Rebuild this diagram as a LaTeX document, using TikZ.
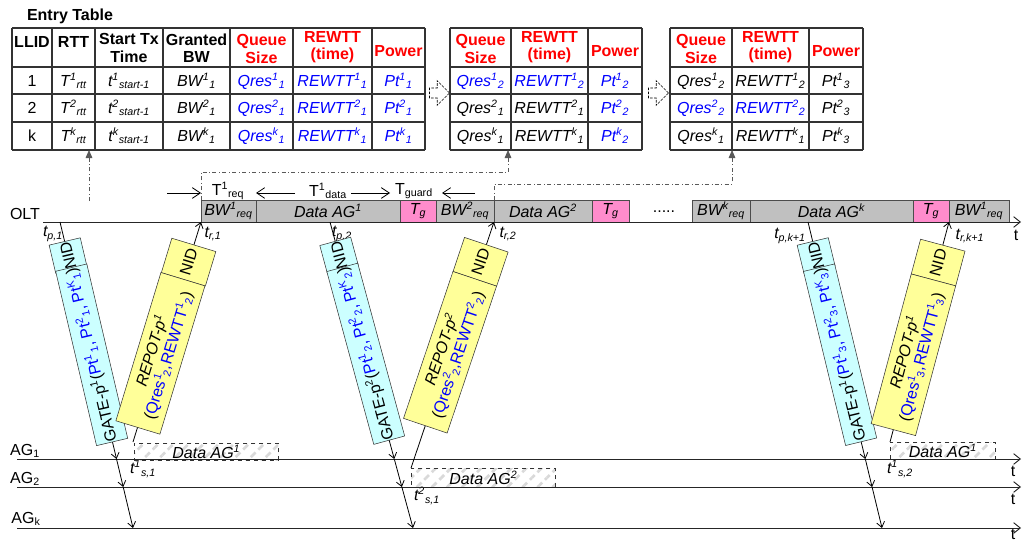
\documentclass[tikz,border=0pt]{standalone}
\usepackage{fontspec}
\setmainfont{Liberation Sans}
\usetikzlibrary{arrows.meta,positioning,calc,shapes.arrows,patterns.meta}

\definecolor{slotgray}{RGB}{192,192,192}
\definecolor{guardpink}{RGB}{255,140,204}
\definecolor{gatecyan}{RGB}{204,255,255}
\definecolor{repotyellow}{RGB}{255,255,153}
\definecolor{valblue}{RGB}{0,0,255}

\newcommand{\supsub}[3]{#1\textsuperscript{#2}\textsubscript{#3}}

\begin{document}
\fontsize{12}{13}\selectfont
\begin{tikzpicture}[
  x=0.75pt, y=-0.75pt,
  tabline/.style={draw=black!80, line width=0.8pt},
  hd/.style={font=\bfseries, align=center, inner sep=0pt},
  hdred/.style={hd, text=red},
  val/.style={font=\itshape, inner sep=0pt},
  valb/.style={val, text=valblue},
  slot/.style={draw=black!70, fill=slotgray, font=\itshape, minimum height=16.5pt,
               inner sep=0pt, outer sep=0pt, line width=0.6pt},
  guard/.style={slot, fill=guardpink},
  dataag/.style={draw=black!80, dashed, line width=0.6pt, anchor=north west,
                 pattern={Lines[angle=45,distance=8pt,line width=2pt]},
                 pattern color=black!15, font=\itshape, inner sep=0pt},
  gate/.style={draw=black!80, fill=gatecyan, inner sep=0.5pt, minimum height=24pt},
  repot/.style={draw=black!80, fill=repotyellow, inner sep=0.5pt, minimum height=34.5pt, align=center},
  nextarr/.style={single arrow, draw=black, fill=white, dash pattern=on 2pt off 1pt, line width=0.5pt,
                  minimum height=15pt, inner sep=3.5pt, single arrow head extend=5.5pt},
  msg/.style={-{Straight Barb[length=4pt,width=6pt]}, line width=0.6pt},
  dimarr/.style={-{Straight Barb[length=6pt,width=8pt]}, line width=0.6pt},
  link/.style={draw=black!65, dash dot, line width=0.6pt, -{Triangle[length=6pt,width=5pt]}},
  timeaxis/.style={draw=black!85, line width=0.7pt, -{Straight Barb[length=5pt,width=8pt]}}
]
\useasboundingbox (0,0) rectangle (1023,542);

% entry table
\node[hd] (title) at (70,16) {Entry Table};
\foreach \cx in {12,52,95,163,230,293,372,425} \draw[tabline] (\cx,28) -- (\cx,150);
\foreach \cy in {28,67,94,122,150} \draw[tabline] (12,\cy) -- (425,\cy);
\node[hd] (llid) at (32,42) {LLID};
\node[hd] (rtt) at (73.5,42) {RTT};
\node[hd] (start) at (129,48) {Start Tx\\Time};
\node[hd] (grant) at (196.5,48) {Granted\\BW};
\node[hdred] (qs) at (261.5,49) {Queue\\Size};
\node[hdred] (rw) at (332.5,47) {REWTT\\(time)};
\node[hdred] (pw) at (398.5,51) {Power};

\node (id1) at (32,81) {1};
\node[val] (rtt1) at (73.5,81) {\supsub{T}{1}{rtt}};
\node[val] (st1) at (129,81) {\supsub{t}{1}{start-1}};
\node[val] (bw11) at (196.5,81) {\supsub{BW}{1}{1}};
\node[valb] (q11) at (261.5,81) {\supsub{Qres}{1}{1}};
\node[valb] (r11) at (332.5,81) {\supsub{REWTT}{1}{1}};
\node[valb] (p11) at (398.5,81) {\supsub{Pt}{1}{1}};

\node (id2) at (32,108) {2};
\node[val] (rtt2) at (73.5,108) {\supsub{T}{2}{rtt}};
\node[val] (st2) at (129,108) {\supsub{t}{2}{start-1}};
\node[val] (bw21) at (196.5,108) {\supsub{BW}{2}{1}};
\node[valb] (q21) at (261.5,108) {\supsub{Qres}{2}{1}};
\node[valb] (r21) at (332.5,108) {\supsub{REWTT}{2}{1}};
\node[valb] (p21) at (398.5,108) {\supsub{Pt}{2}{1}};

\node (idk) at (32,136) {k};
\node[val] (rttk) at (73.5,136) {\supsub{T}{k}{rtt}};
\node[val] (stk) at (129,136) {\supsub{t}{k}{start-1}};
\node[val] (bwk1) at (196.5,136) {\supsub{BW}{k}{1}};
\node[valb] (qk1) at (261.5,136) {\supsub{Qres}{k}{1}};
\node[valb] (rk1) at (332.5,136) {\supsub{REWTT}{k}{1}};
\node[valb] (pk1) at (398.5,136) {\supsub{Pt}{k}{1}};

% second table
\node[nextarr] (nx1) at (437,93) {};
\foreach \cx in {450,511,588,642} \draw[tabline] (\cx,28) -- (\cx,150);
\foreach \cy in {28,67,94,122,150} \draw[tabline] (450,\cy) -- (642,\cy);
\node[hdred] (qsb) at (480.5,49) {Queue\\Size};
\node[hdred] (rwb) at (549.5,47) {REWTT\\(time)};
\node[hdred] (pwb) at (615,51) {Power};
\node[valb] (q12) at (480.5,81) {\supsub{Qres}{1}{2}};
\node[valb] (r12) at (549.5,81) {\supsub{REWTT}{1}{2}};
\node[valb] (p12) at (615,81) {\supsub{Pt}{1}{2}};
\node[val] (q21b) at (480.5,108) {\supsub{Qres}{2}{1}};
\node[val] (r21b) at (549.5,108) {\supsub{REWTT}{2}{1}};
\node[valb] (p22) at (615,108) {\supsub{Pt}{2}{2}};
\node[val] (qk1b) at (480.5,136) {\supsub{Qres}{k}{1}};
\node[val] (rk1b) at (549.5,136) {\supsub{REWTT}{k}{1}};
\node[valb] (pk2) at (615,136) {\supsub{Pt}{k}{2}};

% third table
\node[nextarr] (nx2) at (656,93) {};
\foreach \cx in {670,732,809,863} \draw[tabline] (\cx,28) -- (\cx,150);
\foreach \cy in {28,67,94,122,150} \draw[tabline] (670,\cy) -- (863,\cy);
\node[hdred] (qsc) at (701,49) {Queue\\Size};
\node[hdred] (rwc) at (770.5,47) {REWTT\\(time)};
\node[hdred] (pwc) at (836,51) {Power};
\node[val] (q12c) at (701,81) {\supsub{Qres}{1}{2}};
\node[val] (r12c) at (770.5,81) {\supsub{REWTT}{1}{2}};
\node[val] (p13) at (836,81) {\supsub{Pt}{1}{3}};
\node[valb] (q22) at (701,108) {\supsub{Qres}{2}{2}};
\node[valb] (r22) at (770.5,108) {\supsub{REWTT}{2}{2}};
\node[val] (p23) at (836,108) {\supsub{Pt}{2}{3}};
\node[val] (qk1c) at (701,136) {\supsub{Qres}{k}{1}};
\node[val] (rk1c) at (770.5,136) {\supsub{REWTT}{k}{1}};
\node[val] (pk3) at (836,136) {\supsub{Pt}{k}{3}};

% OLT slots
\node (olt) at (25,214) {OLT};
\node[slot, minimum width=41.25pt, anchor=south west] (bw1) at (201,222) {\supsub{BW}{1}{req}};
\node[slot, minimum width=108pt, right=0pt of bw1] (data1) {Data AG\textsuperscript{1}};
\node[guard, minimum width=27pt, right=0pt of data1] (tg1) {T\textsubscript{g}};
\node[slot, minimum width=43.5pt, right=0pt of tg1] (bw2) {\supsub{BW}{2}{req}};
\node[slot, minimum width=73.5pt, right=0pt of bw2] (data2) {Data AG\textsuperscript{2}};
\node[guard, minimum width=27.75pt, right=0pt of data2] (tg2) {T\textsubscript{g}};
\node (dots) at (664,212) {.....};
\node[slot, minimum width=43.5pt, anchor=south west] (bwk) at (692,222) {\supsub{BW}{k}{req}};
\node[slot, minimum width=122.25pt, right=0pt of bwk] (datak) {Data AG\textsuperscript{k}};
\node[guard, minimum width=27pt, right=0pt of datak] (tgk) {T\textsubscript{g}};
\node[slot, minimum width=45pt, right=0pt of tgk] (bw1b) {\supsub{BW}{1}{req}};

% interval marks
\node (treq) at (228,191) {T\textsuperscript{1}\textsubscript{req}};
\node (tdata) at (328,191) {T\textsuperscript{1}\textsubscript{data}};
\node (tguard) at (414,191) {T\textsubscript{guard}};
\coordinate (dm1) at (167,193);
\coordinate (dm2) at (295,193);
\coordinate (dm3) at (351,193);
\coordinate (dm4) at (475,193);
\draw[dimarr] (dm1) -- (dm1 -| bw1.west);
\draw[dimarr] (dm2) -- (dm2 -| data1.west);
\draw[dimarr] (dm3) -- (390,193);
\draw[dimarr] (dm4) -- (442,193);

% time labels
\node[val] (ltp1) at (53,234) {t\textsubscript{p,1}};
\node[val] (ltr1) at (213,234) {t\textsubscript{r,1}};
\node[val] (ltp2) at (342,234) {t\textsubscript{p,2}};
\node[val] (ltr2) at (508,234) {t\textsubscript{r,2}};
\node[val] (ltp3) at (790,236) {t\textsubscript{p,k+1}};
\node[val] (ltr3) at (970,236) {t\textsubscript{r,k+1}};
\node[val] (ts1) at (143,469) {\supsub{t}{1}{s,1}};
\node[val] (ts2) at (427,496) {\supsub{t}{2}{s,1}};
\node[val] (ts3) at (900,469) {\supsub{t}{1}{s,2}};

% data sent by the AGs
\node[dataag, minimum width=108pt, minimum height=12.75pt] (d1) at (133,442) {Data AG\textsuperscript{1}};
\node[dataag, minimum width=108pt, minimum height=14.25pt] (d2) at (411,468) {Data AG\textsuperscript{2}};
\node[dataag, minimum width=78.75pt, minimum height=12.75pt] (d3) at (890,442) {Data AG\textsuperscript{1}};

% time axes
\coordinate (oltw) at (43,222);
\coordinate (olte) at (1021,222);
\draw[timeaxis] (oltw) -- (olte);
\node (tolt) at (1016,235) {t};
\coordinate (ag1w) at (17,459);
\coordinate (ag1e) at (1021,459);
\coordinate (ag2w) at (17,487);
\coordinate (ag2e) at (1021,487);
\coordinate (agkw) at (17,528);
\coordinate (agke) at (1021,528);
\draw[timeaxis] (ag1w) -- (ag1e);
\draw[timeaxis] (ag2w) -- (ag2e);
\draw[timeaxis] (agkw) -- (agke);
\node (ag1) at (25,451) {AG\textsubscript{1}};
\node (ag2) at (25,479) {AG\textsubscript{2}};
\node (agk) at (26,519) {AG\textsubscript{k}};
\node (t1) at (1013,471) {t};
\node (t2) at (1013,499) {t};
\node (tk) at (1013,534) {t};

% GATE messages
\coordinate (p1) at (60,222);
\coordinate (g1) at (133,528);
\coordinate (p2) at (330,222);
\coordinate (g2) at (413,528);
\coordinate (p3) at (808,222);
\coordinate (g3) at (882,528);
\foreach \i in {1,2,3} {
  \coordinate (g\i a) at ($(p\i)!0.7745!(g\i)$);
  \coordinate (g\i b) at ($(p\i)!0.866!(g\i)$);
  \draw[msg] (p\i) -- (g\i a);
  \draw[msg] (g\i a) -- (g\i b);
  \draw[msg] (g\i b) -- (g\i);
}

% REPORT messages
\draw[msg] (d1.north west) -- (bw1.south west);
\draw[msg] (d2.north west) -- (data2.south west);
\draw[msg] (d3.north west) -- (bw1b.south west);

% message frames
\node[gate, minimum width=21.75pt, rotate=103.2] (nid1) at ($(p1)!25.9pt!(g1)$) {NID};
\node[gate, minimum width=131pt, rotate=103.2] (gate1) at ($(p1)!102.4pt!(g1)$)
  {GATE-p\textsuperscript{1}(\textcolor{valblue}{\supsub{Pt}{1}{1}, \supsub{Pt}{2}{1}, \supsub{Pt}{K}{1}})};
\node[gate, minimum width=21.75pt, rotate=105.2] (nid2) at ($(p2)!25.9pt!(g2)$) {NID};
\node[gate, minimum width=131pt, rotate=105.2] (gate2) at ($(p2)!102.4pt!(g2)$)
  {GATE-p\textsuperscript{2}(\textcolor{valblue}{\supsub{Pt}{1}{2}, \supsub{Pt}{2}{2}, \supsub{Pt}{K}{2}})};
\node[gate, minimum width=21.75pt, rotate=103.6] (nid3) at ($(p3)!25.9pt!(g3)$) {NID};
\node[gate, minimum width=131pt, rotate=103.6] (gate3) at ($(p3)!102.4pt!(g3)$)
  {GATE-p\textsuperscript{1}(\textcolor{valblue}{\supsub{Pt}{1}{3}, \supsub{Pt}{2}{3}, \supsub{Pt}{K}{3}})};

\node[repot, minimum width=27pt, rotate=73.1] (nid4) at ($(bw1.south west)!31.5pt!(d1.north west)$) {NID};
\node[repot, minimum width=116.25pt, rotate=73.1] (rep1) at ($(bw1.south west)!103.1pt!(d1.north west)$)
  {\textit{REPOT-p\textsuperscript{1}}\\(\textcolor{valblue}{\supsub{Qres}{1}{2},\supsub{REWTT}{1}{2}})};
\node[repot, minimum width=27pt, rotate=71.4] (nid5) at ($(data2.south west)!31.5pt!(d2.north west)$) {NID};
\node[repot, minimum width=116.25pt, rotate=71.4] (rep2) at ($(data2.south west)!103.1pt!(d2.north west)$)
  {\textit{REPOT-p\textsuperscript{2}}\\(\textcolor{valblue}{\supsub{Qres}{2}{2},\supsub{REWTT}{2}{2}})};
\node[repot, minimum width=27pt, rotate=75] (nid6) at ($(bw1b.south west)!31.5pt!(d3.north west)$) {NID};
\node[repot, minimum width=116.25pt, rotate=75] (rep3) at ($(bw1b.south west)!103.1pt!(d3.north west)$)
  {\textit{REPOT-p\textsuperscript{1}}\\(\textcolor{valblue}{\supsub{Qres}{1}{3},\supsub{REWTT}{1}{3}})};

% table updates
\coordinate (s0) at (89,201);
\coordinate (e1) at (89,150);
\coordinate (e2) at (508,150);
\coordinate (e3) at (732,150);
\draw[link] (s0) -- (e1);
\draw[link] (bw1.north west) -- ++(0,-28) -| (e2);
\draw[link] (data2.north west) -- ++(0,-16) -| (e3);
\end{tikzpicture}
\end{document}
